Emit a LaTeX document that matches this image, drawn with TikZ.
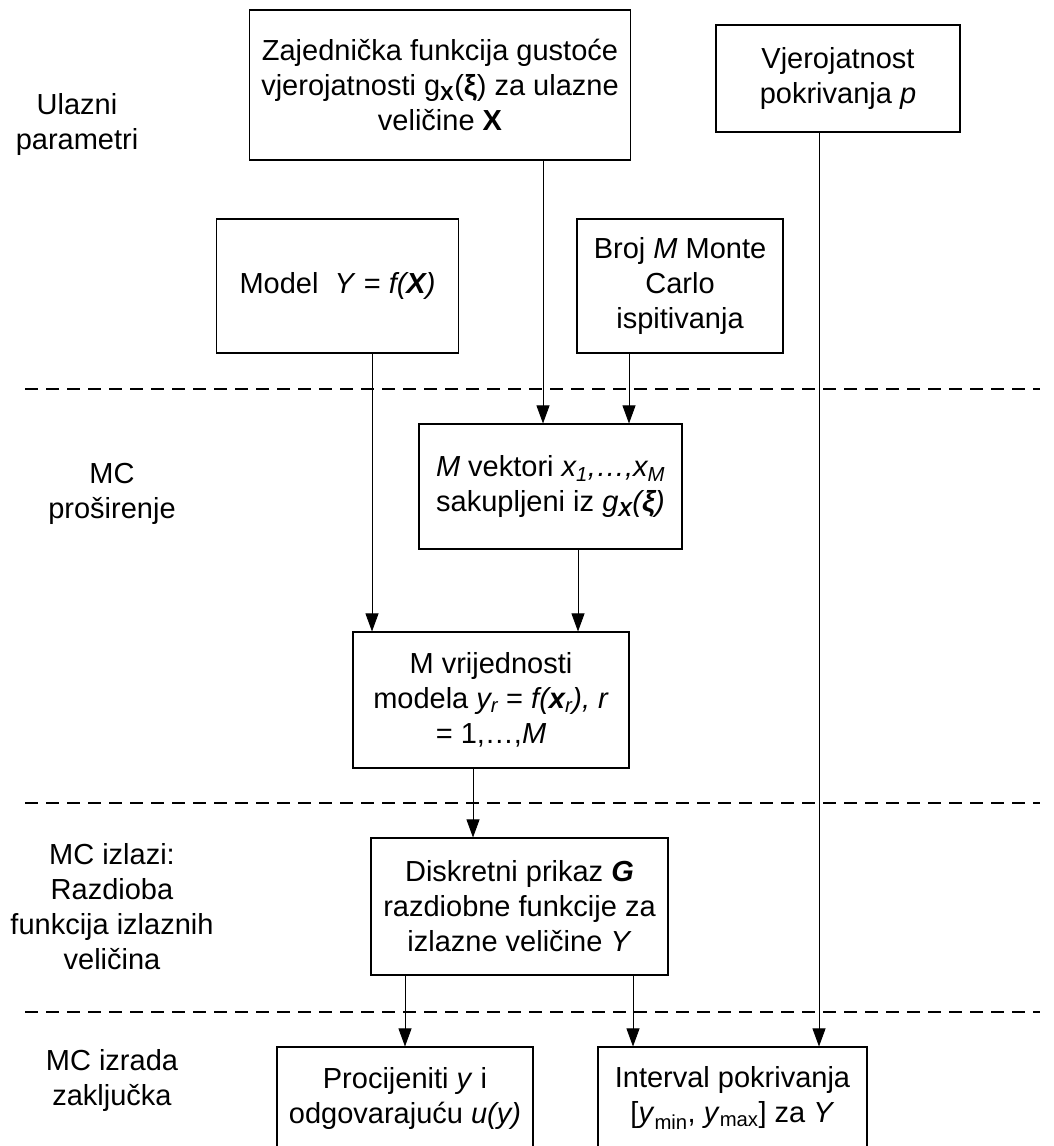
\documentclass[tikz,border=0pt]{standalone}
\usepackage{fontspec}
\setmainfont{Liberation Sans}
\usetikzlibrary{arrows.meta}

\begin{document}
\begin{tikzpicture}[x=1pt,y=-1pt,>={Triangle[length=18pt,width=13pt]},
  blok/.style={draw, line width=1.1pt, align=center, inner sep=0pt, font=\fontsize{29}{35}\selectfont},
  oznaka/.style={align=center, font=\fontsize{29}{35}\selectfont},
  veza/.style={->, line width=0.8pt},
  crta/.style={line width=1.1pt, dash pattern=on 13pt off 8pt}]
\useasboundingbox (0,0) rectangle (1054,1146);
\clip (0,0) rectangle (1054,1146);

% granice faza
\foreach \yy in {389,803,1012}
  \draw[crta] (25,\yy) -- (1040,\yy);

% oznake faza
\node[oznaka] (ul) at (77,124) {Ulazni\\parametri};
\node[oznaka] (mcp) at (112,494) {MC\\proširenje};
\node[oznaka] (mci) at (112,907) {MC izlazi:\\Razdioba\\funkcija izlaznih\\veličina};
\node[oznaka] (mcz) at (112,1080) {MC izrada\\zaključka};

% ulazni parametri
\node[blok, minimum width=381pt, minimum height=150pt] (zdr) at (440,85)
  {Zajednička funkcija gustoće\\vjerojatnosti g\textsubscript{\textbf{X}}(\textbf{ξ}) za ulazne\\veličine \textbf{X}};
\node[blok, minimum width=244pt, minimum height=107pt] (vjer) at (838,78.5)
  {Vjerojatnost\\pokrivanja \textit{p}};
\node[blok, minimum width=242pt, minimum height=134pt] (model) at (337.5,286)
  {Model \ \textit{Y} = \textit{f(\textbf{X})}};
\node[blok, minimum width=206pt, minimum height=134pt] (broj) at (680,286)
  {Broj \textit{M} Monte\\Carlo\\ispitivanja};

% MC prosirenje
\node[blok, minimum width=263pt, minimum height=125pt] (mcvek) at (550.5,486.5)
  {\textit{M} vektori \textit{x\textsubscript{1},…,x\textsubscript{M}}\\sakupljeni iz \textit{g\textsubscript{\textbf{X}}(\textbf{ξ})}};
\node[blok, minimum width=276pt, minimum height=136pt] (mvrij) at (491,700)
  {M vrijednosti\\modela \textit{y\textsubscript{r}} = \textit{f(\textbf{x}\textsubscript{r}),} \textit{r}\\= 1,…,\textit{M}};

% MC izlazi
\node[blok, minimum width=297pt, minimum height=137pt] (diskr) at (519.5,906.5)
  {Diskretni prikaz \textbf{\textit{G}}\\razdiobne funkcije za\\izlazne veličine \textit{Y}};

% MC izrada zakljucka
\node[blok, minimum width=256pt, minimum height=102pt] (proc) at (405,1098)
  {Procijeniti \textit{y} i\\odgovarajuću \textit{u(y)}};
\node[blok, minimum width=269pt, minimum height=102pt] (int) at (732.5,1098)
  {Interval pokrivanja\\{}[\textit{y}\textsubscript{min}, \textit{y}\textsubscript{max}] za \textit{Y}};

% veze
\draw[veza] ([xshift=103pt]zdr.south) -- ([xshift=103pt]zdr.south |- mcvek.north);
\draw[veza] ([xshift=-51pt]broj.south) -- ([xshift=-51pt]broj.south |- mcvek.north);
\draw[veza] ([xshift=34.5pt]model.south) -- ([xshift=34.5pt]model.south |- mvrij.north);
\draw[veza] ([xshift=27.5pt]mcvek.south) -- ([xshift=27.5pt]mcvek.south |- mvrij.north);
\draw[veza] ([xshift=-18pt]mvrij.south) -- ([xshift=-18pt]mvrij.south |- diskr.north);
\draw[veza] (diskr.south -| proc.north) -- (proc.north);
\draw[veza] ([xshift=113.5pt]diskr.south) -- ([xshift=113.5pt]diskr.south |- int.north);
\draw[veza] ([xshift=-19pt]vjer.south) -- ([xshift=-19pt]vjer.south |- int.north);
\end{tikzpicture}
\end{document}
